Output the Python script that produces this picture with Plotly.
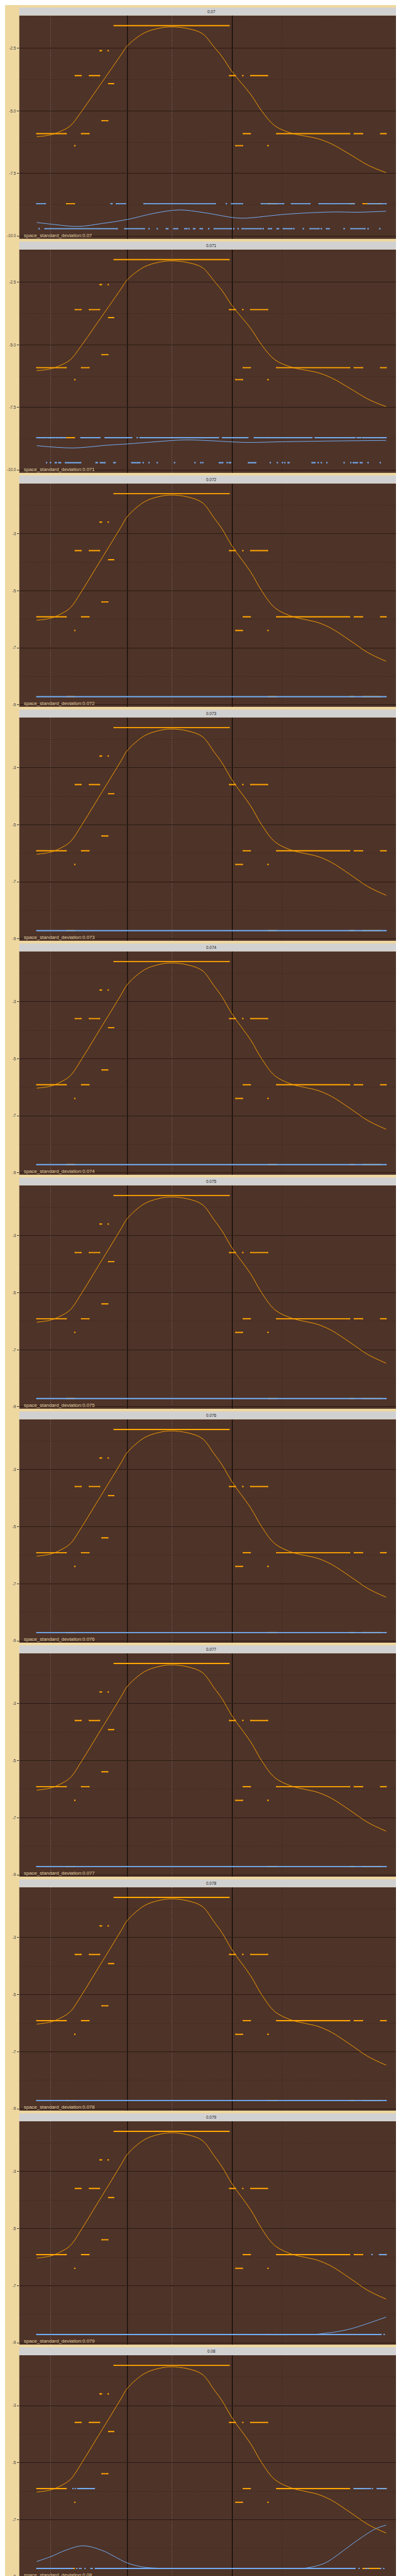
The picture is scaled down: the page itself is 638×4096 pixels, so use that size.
import plotly.graph_objects as go

# ------------------------------------------------------------------ data
panel_labels = ["0.07", "0.071", "0.072", "0.073", "0.074", "0.075",
                "0.076", "0.077", "0.078", "0.079", "0.08"]

# x is a day index (0 .. 89)
day_min, day_max = 0.0, 89.0
vline_days = [23.1, 49.8]
xgrid_major = [3.5, 34.5]
xgrid_minor = [62.5]

# orange points: runs (start_day, end_day, value) - identical in every panel
orange_runs = [
    (0.0, 7.5, -5.91), (7.6, 9.6, -8.71), (9.7, 9.7, -6.39), (9.8, 11.3, -3.59),
    (11.4, 13.3, -5.91), (13.4, 16.0, -3.59), (16.1, 16.5, -2.59), (16.6, 18.1, -5.39),
    (18.2, 18.2, -2.59), (18.3, 19.6, -3.91), (19.7, 49.0, -1.59), (49.1, 50.6, -3.59),
    (50.7, 52.4, -6.39), (52.5, 52.5, -3.59), (52.6, 54.4, -5.91), (54.5, 58.8, -3.59),
    (58.9, 58.9, -6.39), (59.0, 61.0, -8.71), (61.1, 79.7, -5.91), (79.8, 80.8, -8.71),
    (80.9, 83.0, -5.91), (83.1, 87.5, -8.71), (87.6, 89.0, -5.91),
]
# orange smooth curve (identical in every panel)
orange_curve_day = [0, 3.5, 6.0, 8.5, 11.5, 14.4, 16.8, 18.5, 21.5, 23.1, 27.4, 31.0, 34.2,
                    38.5, 42.2, 45.1, 47.2, 49.8, 54.5, 57.3, 60.7, 65.1, 68.5, 71.6, 75.1,
                    79.8, 84.4, 89.0]
orange_curve_val = [-6.03, -5.96, -5.82, -5.60, -5.00, -4.35, -3.81, -3.43, -2.75, -2.39,
                    -1.88, -1.70, -1.64, -1.71, -1.91, -2.43, -2.83, -3.44, -4.34, -5.00,
                    -5.60, -5.90, -6.01, -6.11, -6.32, -6.74, -7.17, -7.47]

# blue points per panel: runs (start_day, end_day, value)
blue_runs_p1 = [
    (0.0, 2.2, -8.71), (18.9, 19.2, -8.71), (20.3, 22.6, -8.71), (27.3, 45.5, -8.71),
    (48.3, 48.3, -8.71), (49.6, 52.4, -8.71), (57.2, 59.3, -8.71), (59.7, 62.9, -8.71),
    (64.9, 69.6, -8.71), (71.9, 80.3, -8.71), (80.7, 80.9, -8.71), (84.4, 87.3, -8.71),
    (87.7, 89.0, -8.71),
    (0.6, 0.6, -9.71), (2.1, 20.5, -9.71), (22.4, 27.4, -9.71), (28.6, 28.6, -9.71),
    (30.7, 30.7, -9.71), (33.0, 33.0, -9.71), (33.4, 33.4, -9.71), (34.9, 35.9, -9.71),
    (37.7, 38.3, -9.71), (38.8, 38.8, -9.71), (39.9, 40.3, -9.71), (41.6, 42.2, -9.71),
    (43.8, 43.8, -9.71), (45.2, 49.6, -9.71), (50.2, 50.2, -9.71), (51.3, 51.3, -9.71),
    (52.3, 57.2, -9.71), (57.7, 57.7, -9.71), (59.0, 59.8, -9.71), (61.2, 61.6, -9.71),
    (62.8, 65.0, -9.71), (65.5, 65.5, -9.71), (67.9, 67.9, -9.71), (69.6, 71.9, -9.71),
    (72.5, 72.5, -9.71), (73.8, 74.5, -9.71), (78.3, 78.3, -9.71), (80.0, 83.6, -9.71),
    (84.4, 84.4, -9.71), (87.4, 87.4, -9.71),
]
blue_runs_p2 = [
    (0.0, 2.4, -8.71), (2.7, 4.7, -8.71), (5.0, 5.5, -8.71), (5.8, 7.3, -8.71),
    (11.2, 16.1, -8.71), (17.4, 24.2, -8.71), (25.6, 25.6, -8.71), (26.3, 46.3, -8.71),
    (47.3, 53.8, -8.71), (55.4, 70.1, -8.71), (70.9, 81.1, -8.71), (81.6, 82.6, -8.71),
    (83.0, 89.0, -8.71),
    (2.5, 2.5, -9.71), (3.5, 3.5, -9.71), (4.7, 5.0, -9.71), (5.6, 6.1, -9.71),
    (7.3, 11.2, -9.71), (15.1, 15.1, -9.71), (15.4, 15.4, -9.71), (16.2, 17.4, -9.71),
    (19.6, 20.0, -9.71), (24.2, 26.3, -9.71), (27.1, 27.1, -9.71), (28.6, 28.6, -9.71),
    (30.7, 30.7, -9.71), (35.1, 35.1, -9.71), (40.3, 40.3, -9.71), (41.8, 41.8, -9.71),
    (42.3, 42.3, -9.71), (46.5, 47.4, -9.71), (48.5, 48.5, -9.71), (49.0, 49.4, -9.71),
    (53.9, 55.8, -9.71), (59.5, 59.5, -9.71), (61.3, 61.3, -9.71), (62.6, 62.6, -9.71),
    (63.2, 63.2, -9.71), (64.0, 64.3, -9.71), (70.1, 70.9, -9.71), (71.7, 71.7, -9.71),
    (72.5, 72.5, -9.71), (73.9, 73.9, -9.71), (78.3, 78.3, -9.71), (80.0, 80.0, -9.71),
    (80.6, 81.7, -9.71), (82.4, 82.9, -9.71), (84.4, 84.4, -9.71), (87.5, 87.5, -9.71),
]
blue_runs_flat = [(0.0, 89.0, -8.71)]
blue_runs_p10 = [(0.0, 87.7, -8.71), (88.5, 88.5, -8.71),
                 (85.4, 85.4, -5.91), (87.3, 89.0, -5.91)]
blue_runs_p11 = [
    (0.0, 9.2, -8.71), (10.2, 10.2, -8.71), (10.9, 10.9, -8.71), (11.3, 11.3, -8.71),
    (12.3, 12.3, -8.71), (13.8, 13.8, -8.71), (14.1, 14.1, -8.71), (14.9, 81.1, -8.71),
    (82.1, 82.1, -8.71), (83.9, 83.9, -8.71), (84.4, 84.4, -8.71), (87.6, 87.6, -8.71),
    (88.4, 88.4, -8.71),
    (9.2, 9.2, -5.91), (9.8, 9.8, -5.91), (10.4, 14.7, -5.91), (80.8, 85.0, -5.91),
    (85.5, 85.5, -5.91), (86.7, 89.0, -5.91),
]

# blue smooth curves per panel
blue_curve_p1_day = [0, 4.9, 10.5, 16.7, 23.1, 29.7, 36.2, 42.7, 49.8, 52.8, 63.6, 75.3, 81.8, 89.0]
blue_curve_p1_val = [-9.46, -9.55, -9.62, -9.50, -9.34, -9.10, -8.96, -9.07, -9.26, -9.29,
                     -9.13, -9.04, -9.05, -9.01]
blue_curve_p2_day = [0, 9.2, 18.0, 23.1, 29.7, 37.6, 44.1, 49.9, 53.8, 63.6, 76.6, 89.0]
blue_curve_p2_val = [-9.03, -9.12, -9.01, -8.96, -8.88, -8.80, -8.83, -8.88, -8.90, -8.87,
                     -8.84, -8.82]
blue_curve_flat_day = [0, 44.5, 89.0]
blue_curve_flat_val = [-8.71, -8.71, -8.71]
blue_curve_p10_day = [0, 35.0, 70.0, 73.3, 76.6, 79.8, 83.1, 89.0]
blue_curve_p10_val = [-8.71, -8.71, -8.71, -8.67, -8.61, -8.52, -8.38, -8.10]
blue_curve_p11_day = [0, 3.5, 7.6, 11.8, 16.7, 19.9, 23.1, 27.1, 31.0, 48.0, 65.5, 68.8,
                      73.3, 76.6, 79.8, 83.1, 86.3, 89.0]
blue_curve_p11_val = [-8.465, -8.30, -8.06, -7.915, -8.08, -8.30, -8.52, -8.66, -8.70, -8.71,
                      -8.71, -8.69, -8.53, -8.24, -7.91, -7.59, -7.32, -7.19]

# y tick sets
ticks_wide = [-2.5, -5.0, -7.5, -10.0]
ticks_wide_text = ["-2.5", "-5.0", "-7.5", "-10.0"]
minor_wide = [-1.25, -3.75, -6.25, -8.75]
ticks_narrow = [-3, -5, -7, -9]
ticks_narrow_text = ["-3", "-5", "-7", "-9"]
minor_narrow = [-2, -4, -6, -8]

# ------------------------------------------------------------------ assembly
blue_runs_by_panel = [blue_runs_p1, blue_runs_p2] + [blue_runs_flat] * 7 + [blue_runs_p10, blue_runs_p11]
blue_curve_by_panel = ([(blue_curve_p1_day, blue_curve_p1_val), (blue_curve_p2_day, blue_curve_p2_val)]
                       + [(blue_curve_flat_day, blue_curve_flat_val)] * 7
                       + [(blue_curve_p10_day, blue_curve_p10_val),
                          (blue_curve_p11_day, blue_curve_p11_val)])

# ------------------------------------------------------------------ style
W, H = 638, 4096
REF_W, REF_H = 1152.0, 7392.0
FONT = "Liberation Sans, Arial, sans-serif"
ORANGE = "#FFA500"
BLUE = "#72AAEE"
PAPER = "#EFD8A0"
PANEL = "#4E3328"
STRIP = "#D1D1D1"

PANEL_L, PANEL_R = 41.0, 1145.0
STRIP_H, PANEL_H, PERIOD, TOP0 = 22.7, 641.0, 671.4, 7.3

def runs_xy(runs):
    xs, ys = [], []
    for a, b, v in runs:
        xs += [a, b, None]
        ys += [v, v, None]
    return xs, ys

fig = go.Figure()
shapes, annotations = [], []
span = day_max - day_min
xr = [day_min - 0.05 * span, day_max + 0.05 * span]

for k, label in enumerate(panel_labels):
    sfx = "" if k == 0 else str(k + 1)
    xa, ya = "x" + sfx, "y" + sfx
    strip_top = TOP0 + PERIOD * k
    ptop = strip_top + STRIP_H
    pbot = ptop + PANEL_H
    ydom = [1 - pbot / REF_H, 1 - ptop / REF_H]

    b_runs = blue_runs_by_panel[k]
    bc_x, bc_y = blue_curve_by_panel[k]
    allv = [r[2] for r in orange_runs] + [r[2] for r in b_runs] + list(orange_curve_val) + list(bc_y)
    lo, hi = min(allv), max(allv)
    yr = [lo - 0.05 * (hi - lo), hi + 0.05 * (hi - lo)]
    wide = lo < -9.2
    tv, tt, mv = ((ticks_wide, ticks_wide_text, minor_wide) if wide
                  else (ticks_narrow, ticks_narrow_text, minor_narrow))

    ox, oy = runs_xy(orange_runs)
    fig.add_trace(go.Scatter(x=ox, y=oy, mode="lines+markers", xaxis=xa, yaxis=ya,
                             line=dict(color=ORANGE, width=1.9),
                             marker=dict(color=ORANGE, size=2.2),
                             showlegend=False, hoverinfo="skip"))
    bx, by = runs_xy(b_runs)
    fig.add_trace(go.Scatter(x=bx, y=by, mode="lines+markers", xaxis=xa, yaxis=ya,
                             line=dict(color=BLUE, width=1.9),
                             marker=dict(color=BLUE, size=2.2),
                             showlegend=False, hoverinfo="skip"))
    fig.add_trace(go.Scatter(x=orange_curve_day, y=orange_curve_val, mode="lines",
                             xaxis=xa, yaxis=ya,
                             line=dict(color=ORANGE, width=0.9, shape="spline", smoothing=1.0),
                             showlegend=False, hoverinfo="skip"))
    fig.add_trace(go.Scatter(x=bc_x, y=bc_y, mode="lines", xaxis=xa, yaxis=ya,
                             line=dict(color=BLUE, width=1.0, shape="spline", smoothing=1.0),
                             showlegend=False, hoverinfo="skip"))

    fig.layout["xaxis" + sfx] = dict(
        domain=[PANEL_L / REF_W, PANEL_R / REF_W], range=xr, anchor=ya,
        tickmode="array", tickvals=xgrid_major, showticklabels=False, ticks="",
        showgrid=True, gridcolor="#7A716B", gridwidth=0.6, griddash="1px,2px",
        minor=dict(tickmode="array", tickvals=xgrid_minor, showgrid=True,
                   gridcolor="#3E2A20", gridwidth=0.6, griddash="2px,2px", ticks=""),
        zeroline=False, showline=False, fixedrange=True)
    fig.layout["yaxis" + sfx] = dict(
        domain=ydom, range=yr, anchor=xa,
        tickmode="array", tickvals=tv, ticktext=tt,
        tickfont=dict(family=FONT, size=6.4, color="#3A3A3A"),
        ticks="outside", ticklen=3, tickwidth=0.6, tickcolor="#333333",
        showgrid=True, gridcolor="#2A1B14", gridwidth=0.7,
        minor=dict(tickmode="array", tickvals=mv, showgrid=True,
                   gridcolor="#3E2A20", gridwidth=0.6, griddash="2px,2px", ticks=""),
        zeroline=False, showline=False, fixedrange=True)

    for d in vline_days:
        shapes.append(dict(type="line", xref=xa, yref="paper", x0=d, x1=d,
                           y0=ydom[0], y1=ydom[1],
                           line=dict(color="#000000", width=1.0), layer="below"))
    shapes.append(dict(type="rect", xref="paper", yref="paper",
                       x0=PANEL_L / REF_W, x1=PANEL_R / REF_W,
                       y0=1 - ptop / REF_H, y1=1 - strip_top / REF_H,
                       fillcolor=STRIP, line=dict(width=0), layer="above"))
    annotations.append(dict(xref="paper", yref="paper",
                            x=(PANEL_L + PANEL_R) / 2 / REF_W,
                            y=1 - (strip_top + STRIP_H / 2) / REF_H,
                            text=label, showarrow=False, xanchor="center", yanchor="middle",
                            font=dict(family=FONT, size=6.4, color="#1A1A1A")))
    # panel caption at the bottom-left corner of the panel
    annotations.append(dict(xref="paper", yref="paper",
                            x=52.0 / REF_W, y=ydom[0],
                            text="space_standard_deviation:" + label, showarrow=False,
                            xanchor="left", yanchor="bottom", borderpad=0,
                            font=dict(family=FONT, size=7.8, color="#E4D2A4")))

fig.update_layout(
    width=W, height=H, margin=dict(l=0, r=0, t=0, b=0, autoexpand=False),
    paper_bgcolor=PAPER, plot_bgcolor=PANEL,
    shapes=shapes, annotations=annotations, showlegend=False,
)

fig.write_html("out.html")
